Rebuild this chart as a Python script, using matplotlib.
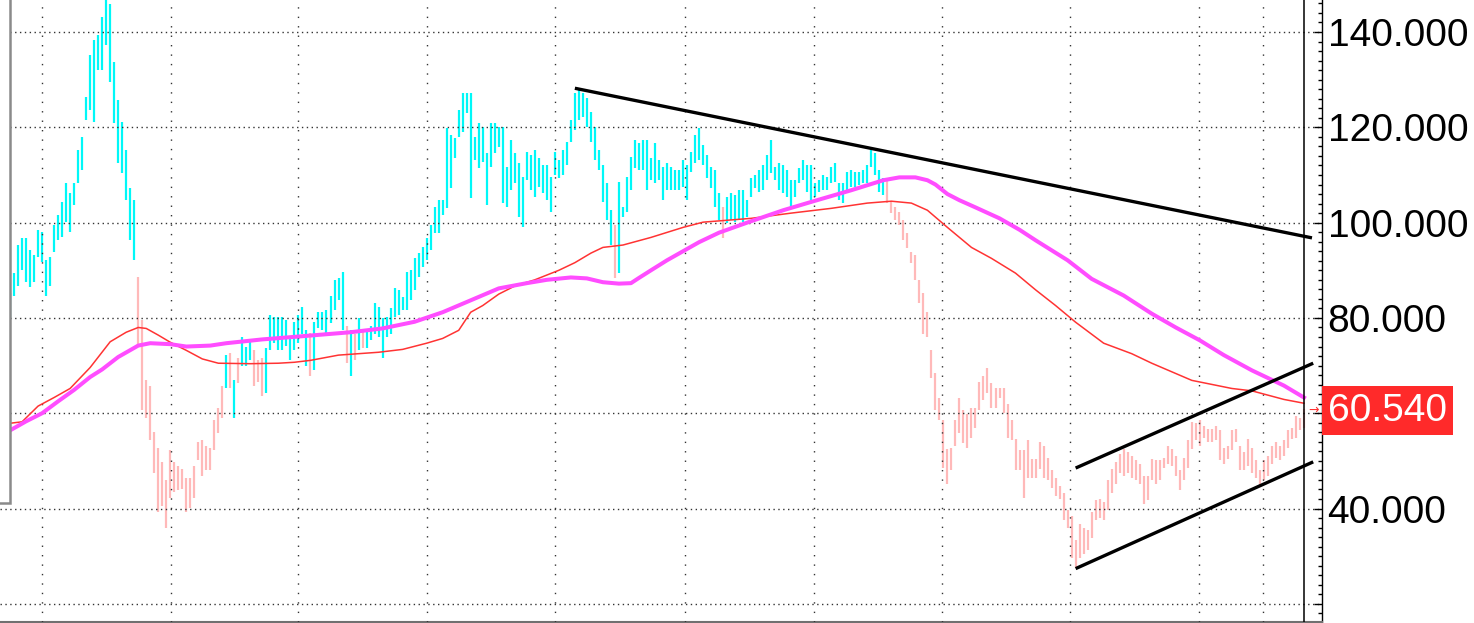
import matplotlib
matplotlib.use("Agg")
import matplotlib.pyplot as plt
import matplotlib.transforms as mtransforms
from matplotlib import font_manager
from matplotlib.patches import Rectangle
from matplotlib.ticker import MultipleLocator, FuncFormatter

# price bars (one per period): low / high
bar_low = [
    79.9, 84.7, 86.8, 90.0, 87.5, 86.4, 87.5, 92.7, 91.7, 84.7,
    86.8, 93.8, 96.3, 96.9, 100.1, 98.0, 103.6, 108.3, 111.0, 121.5,
    123.6, 121.1, 132.0, 132.0, 137.3, 129.5, 120.9, 112.5, 110.4, 104.7,
    96.3, 92.1, 73.8, 60.6, 58.9, 54.3, 47.4, 39.2, 40.6, 36.0,
    42.3, 43.4, 43.8, 44.2, 39.2, 40.2, 42.3, 50.1, 46.9, 48.0,
    48.0, 52.2, 55.8, 59.1, 65.4, 65.4, 59.1, 66.3, 70.0, 70.0,
    71.1, 65.8, 66.5, 63.7, 64.2, 73.2, 74.7, 73.2, 73.2, 74.2,
    71.1, 73.2, 74.7, 76.7, 70.0, 67.9, 69.0, 77.8, 77.4, 76.7,
    79.0, 81.6, 83.7, 77.4, 70.5, 67.9, 71.1, 73.2, 73.6, 73.6,
    75.3, 76.7, 75.9, 71.5, 75.9, 76.7, 80.1, 80.6, 81.6, 81.6,
    83.7, 85.8, 88.5, 90.6, 92.1, 94.2, 97.8, 97.8, 101.6, 103.0,
    107.2, 113.5, 117.9, 119.0, 123.0, 105.1, 113.1, 111.4, 112.7, 103.6,
    111.6, 114.6, 115.8, 104.1, 103.2, 106.8, 108.3, 101.1, 99.0, 108.9,
    106.8, 105.3, 107.4, 106.2, 104.7, 102.2, 110.0, 109.3, 110.0, 112.0,
    116.9, 119.4, 121.5, 122.1, 120.0, 116.9, 113.1, 111.0, 104.3, 100.5,
    95.3, 88.3, 89.4, 101.1, 102.2, 106.8, 111.4, 111.0, 111.0, 106.8,
    108.9, 108.3, 108.9, 104.7, 106.8, 106.8, 106.8, 106.8, 107.4, 104.7,
    110.6, 112.5, 113.1, 112.0, 109.3, 107.2, 103.2, 100.5, 96.7, 99.9,
    100.5, 100.1, 100.5, 100.1, 101.1, 105.3, 107.2, 106.4, 106.8, 108.9,
    110.4, 108.9, 106.8, 106.2, 105.3, 103.2, 105.3, 108.3, 108.9, 106.4,
    104.7, 105.3, 106.4, 106.8, 106.8, 108.3, 108.5, 104.7, 104.1, 106.4,
    107.4, 107.4, 107.8, 108.3, 108.3, 111.6, 110.0, 106.4, 105.7, 104.1,
    102.0, 100.5, 99.4, 96.3, 94.6, 91.5, 87.9, 83.1, 76.7, 75.9,
    67.5, 60.6, 58.5, 48.6, 45.2, 48.0, 53.2, 55.8, 53.7, 52.8,
    54.9, 57.0, 60.6, 62.7, 64.2, 61.2, 61.2, 63.3, 60.0, 54.9,
    54.3, 48.0, 48.0, 42.3, 46.5, 46.5, 46.5, 48.4, 46.5, 45.9,
    44.4, 42.7, 42.1, 37.5, 36.0, 29.7, 27.6, 29.7, 30.5, 31.2,
    33.9, 37.5, 38.1, 37.5, 39.6, 43.2, 45.2, 47.4, 46.9, 47.4,
    46.5, 45.9, 45.2, 41.0, 41.7, 45.9, 45.2, 45.9, 48.6, 49.4,
    49.0, 46.9, 43.8, 45.9, 48.6, 52.6, 54.3, 53.2, 54.9, 53.9,
    53.9, 54.3, 50.1, 49.4, 50.5, 52.2, 53.9, 48.0, 48.0, 49.0,
    47.4, 46.5, 44.8, 45.9, 46.9, 49.4, 50.7, 50.1, 51.1, 52.8,
    54.7, 54.9, 56.4, 57.0,
]
bar_high = [
    85.2, 89.4, 95.3, 96.7, 96.7, 94.2, 93.2, 98.4, 98.0, 92.1,
    92.7, 99.4, 101.6, 104.3, 108.3, 106.2, 108.3, 115.2, 117.9, 126.3,
    135.2, 138.3, 139.4, 143.2, 148.0, 145.9, 133.7, 125.7, 121.1, 115.2,
    107.2, 104.7, 88.5, 79.5, 66.9, 65.8, 56.0, 52.8, 49.7, 45.9,
    52.2, 49.7, 49.0, 48.4, 46.5, 46.5, 49.0, 53.9, 54.3, 53.2,
    52.8, 58.5, 61.0, 65.8, 72.3, 72.6, 66.9, 71.5, 76.1, 73.8,
    75.3, 73.2, 71.1, 71.5, 73.6, 80.6, 80.1, 80.1, 80.1, 79.5,
    76.3, 79.1, 80.6, 82.2, 77.4, 76.9, 79.1, 81.2, 81.2, 81.6,
    84.7, 87.9, 88.3, 89.6, 78.4, 77.4, 76.7, 79.9, 77.4, 77.4,
    78.4, 83.1, 82.2, 79.9, 80.1, 82.0, 86.2, 85.8, 84.3, 89.6,
    90.0, 92.5, 93.6, 94.8, 96.7, 99.4, 103.2, 104.7, 104.7, 119.8,
    118.4, 117.7, 123.6, 127.2, 127.2, 127.2, 117.9, 120.9, 120.0, 114.6,
    120.9, 120.9, 120.0, 120.0, 111.6, 117.3, 114.6, 112.5, 109.5, 114.8,
    114.1, 115.2, 113.5, 112.0, 112.0, 109.5, 114.8, 113.1, 115.2, 116.9,
    121.5, 127.2, 127.8, 127.2, 126.1, 123.2, 120.0, 115.2, 112.0, 108.3,
    102.6, 99.4, 108.5, 103.2, 109.5, 113.7, 117.3, 116.7, 117.3, 117.3,
    113.5, 116.7, 113.1, 111.6, 112.5, 111.6, 111.0, 111.0, 113.1, 112.0,
    114.8, 118.4, 119.8, 116.3, 114.1, 111.6, 111.0, 106.2, 103.2, 105.3,
    106.2, 105.7, 106.8, 106.8, 104.7, 109.3, 110.0, 111.0, 112.0, 114.1,
    117.3, 111.6, 112.5, 112.0, 111.0, 108.9, 108.9, 111.4, 113.1, 112.0,
    112.0, 108.3, 108.9, 110.0, 109.5, 111.6, 112.5, 108.3, 108.3, 110.6,
    111.0, 110.6, 110.6, 111.0, 112.0, 115.2, 114.6, 111.0, 109.3, 108.9,
    104.3, 103.2, 102.2, 100.5, 97.8, 93.8, 93.2, 87.9, 85.2, 81.2,
    73.2, 68.4, 63.3, 58.5, 52.6, 52.8, 58.5, 63.1, 60.6, 59.9,
    61.0, 61.0, 66.5, 67.9, 69.6, 66.3, 65.4, 65.2, 65.2, 62.0,
    58.5, 54.7, 52.2, 52.2, 54.3, 50.5, 50.5, 53.9, 53.2, 50.7,
    48.0, 46.5, 44.8, 43.2, 39.6, 38.5, 33.3, 36.8, 35.9, 35.6,
    39.2, 41.7, 42.1, 41.3, 45.9, 48.4, 49.7, 51.4, 52.6, 51.8,
    51.1, 50.1, 49.4, 46.9, 46.9, 50.5, 50.1, 50.1, 50.7, 53.2,
    52.6, 51.1, 48.0, 50.7, 54.3, 58.1, 57.9, 58.5, 57.4, 56.8,
    56.8, 57.4, 56.4, 52.8, 53.2, 56.4, 56.8, 53.2, 51.8, 54.7,
    52.8, 50.1, 48.0, 50.1, 51.1, 53.2, 53.9, 53.2, 54.3, 56.4,
    57.0, 59.5, 59.1, 60.8,
]
# 1 = bullish regime (cyan), 0 = bearish regime (pink)
bar_trend = (
    "1111111111" "1111111111" "1111111111" "1100000000" "0000000000"
    "0000101011" "1000111111" "1111101111" "1111010101" "1111111111"
    "1111111111" "1111111111" "1111111111" "1111111111" "1111111111"
    "1011111111" "1111111111" "1111111101" "1111111111" "1111111111"
    "1111111111" "1111111110" "0000000000" "0000000000" "0000000000"
    "0000000000" "0000000000" "0000000000" "0000000000" "0000000000"
    "0000000000" "0000000000" "0000"
)
last_price = 60.54

# moving averages read at selected bars
red_ma_bar = [0, 3, 7, 11, 15, 20, 25, 29, 32, 34, 37, 40, 44, 48, 52, 60, 67,
              71, 75, 82, 92, 98, 104, 108, 112, 115, 118, 122, 126, 131, 137,
              141, 145, 148, 153, 160, 168, 173, 185, 195, 205, 214, 220, 225,
              229, 234, 240, 245, 251, 256, 261, 266, 273, 280, 285, 295, 305,
              310, 318, 323]
red_ma = [57.9, 58.2, 61.5, 63.3, 65.2, 69.6, 75.0, 77.0, 78.0, 77.8, 76.4,
          74.9, 73.2, 71.4, 70.5, 70.4, 70.5, 70.7, 71.1, 72.2, 72.8, 73.4,
          74.7, 75.7, 77.4, 81.2, 82.6, 85.0, 86.7, 88.0, 90.0, 91.6, 93.6,
          94.8, 95.3, 96.9, 99.0, 100.1, 100.9, 102.0, 103.0, 104.1, 104.5,
          104.1, 102.6, 99.0, 94.8, 92.5, 89.4, 85.9, 82.6, 79.1, 74.7, 72.5,
          70.5, 66.9, 65.2, 64.7, 62.9, 62.1]
mag_ma_bar = [0, 4, 8, 12, 16, 20, 23, 27, 32, 35, 40, 44, 50, 54, 63, 72, 85,
              93, 101, 108, 115, 122, 129, 134, 140, 144, 148, 152, 155, 157,
              160, 164, 168, 172, 177, 185, 193, 201, 210, 218, 222, 226, 229,
              231, 234, 237, 241, 247, 252, 256, 260, 264, 270, 278, 285, 291,
              297, 303, 310, 318, 323]
mag_ma = [56.4, 58.3, 60.0, 62.5, 64.9, 67.6, 69.2, 71.8, 74.2, 74.7, 74.5,
          74.0, 74.2, 74.7, 75.5, 76.1, 77.0, 77.8, 79.2, 81.2, 83.7, 86.2,
          87.3, 88.0, 88.5, 88.3, 87.5, 87.2, 87.3, 88.4, 90.0, 92.1, 94.0,
          95.9, 97.9, 100.3, 102.6, 104.6, 106.8, 108.9, 109.5, 109.5, 108.9,
          108.0, 106.0, 104.7, 103.2, 100.9, 98.5, 96.3, 94.2, 92.1, 88.2,
          84.7, 80.9, 78.0, 75.3, 72.2, 69.0, 65.8, 63.3]

# hand drawn trend lines: (bar, price) end points
trend_bars = [(141, 325), (266, 325.3), (266, 325.3)]
trend_prices = [(128.2, 96.8), (48.5, 70.5), (27.4, 49.8)]

# period separators (bar positions of vertical grid)
period_starts = [8, 40.2, 72, 104.1, 136, 168.5, 200.7, 232.6, 264.6, 296.8, 312.8]
price_levels = [20, 40, 60, 80, 100, 120, 140]


def pick_font(names):
    for n in names:
        try:
            font_manager.findfont(n, fallback_to_default=False)
            return n
        except ValueError:
            pass
    return "DejaVu Sans"


label_font = pick_font(["Liberation Sans Narrow", "Arial Narrow"])
label_size = 33
if label_font == "DejaVu Sans":
    label_font = pick_font(["Liberation Sans", "Arial"])
    label_size = 28

n_bars = len(bar_low)
idx = list(range(n_bars))
colors = ["#00f8f8" if t == "1" else "#ffb9b9" for t in bar_trend]

fig = plt.figure(figsize=(14.74, 6.23), dpi=100)
ax = fig.add_axes([0, 1.5 / 623, 1322 / 1474, 1 - 1.5 / 623])
ax.set_xlim(-2.5, 327.5)
ax.set_ylim(16.3, 146.72)

ax.vlines(idx, bar_low, bar_high, colors=colors, linewidth=1.6, zorder=2)

ax.plot(red_ma_bar, red_ma, color="#ff3333", linewidth=1.1, zorder=4)
ax.plot(mag_ma_bar, mag_ma, color="#ff4dff", linewidth=2.9, zorder=4)

for xs, ys in zip(trend_bars, trend_prices):
    ax.plot(xs, ys, color="black", linewidth=2.4, solid_capstyle="butt", zorder=5)

ax.axvline(n_bars - 1, color="black", linewidth=1.1, zorder=5)

# grid
ax.set_xticks(period_starts)
ax.tick_params(axis="x", length=0, labelbottom=False)
ax.grid(axis="x", color="#333333", linestyle=(0, (1, 5.8)), linewidth=1.0, zorder=3)
ax.set_yticks(price_levels)
ax.yaxis.set_minor_locator(MultipleLocator(2))
ax.grid(axis="y", which="major", color="#333333", linestyle=(0, (1, 2.5)),
        linewidth=1.0, zorder=3)
ax.set_axisbelow(False)

ax.yaxis.tick_right()
ax.yaxis.set_major_formatter(FuncFormatter(
    lambda v, p: "" if v < 30 or abs(v - last_price) < 8 else f"{v:.3f}"))
ax.tick_params(axis="y", which="major", direction="in", length=6, width=1,
               pad=4, labelsize=label_size, colors="black")
ax.tick_params(axis="y", which="minor", direction="in", length=3, width=1,
               colors="black")
for lab in ax.get_yticklabels():
    lab.set_fontfamily(label_font)

for side in ["top", "left"]:
    ax.spines[side].set_visible(False)
ax.spines["right"].set_color("black")
ax.spines["right"].set_linewidth(1.0)
ax.spines["bottom"].set_color("#707070")
ax.spines["bottom"].set_linewidth(1.5)

# last price marker and label
blend = mtransforms.blended_transform_factory(ax.transAxes, ax.transData)
ax.annotate(f"{last_price:.3f}", xy=(1.0, last_price), xycoords=blend,
            xytext=(6, 0), textcoords="offset pixels", ha="left", va="center",
            color="white", fontsize=label_size, fontfamily=label_font,
            bbox=dict(boxstyle="square,pad=0.16", fc="#ff2a2a", ec="none"),
            annotation_clip=False, zorder=10)
ax.text(n_bars + 1.3, last_price, "→", color="#ff3030", fontsize=9,
        ha="center", va="center", zorder=6)

# left panel edge
fig.add_artist(Rectangle((-0.01, 120 / 623), 0.01 + 10 / 1474, 0.9,
                         transform=fig.transFigure, facecolor="white",
                         edgecolor="#8a8a8a", linewidth=1.8, zorder=20))

fig.savefig("out.png", dpi=100)
